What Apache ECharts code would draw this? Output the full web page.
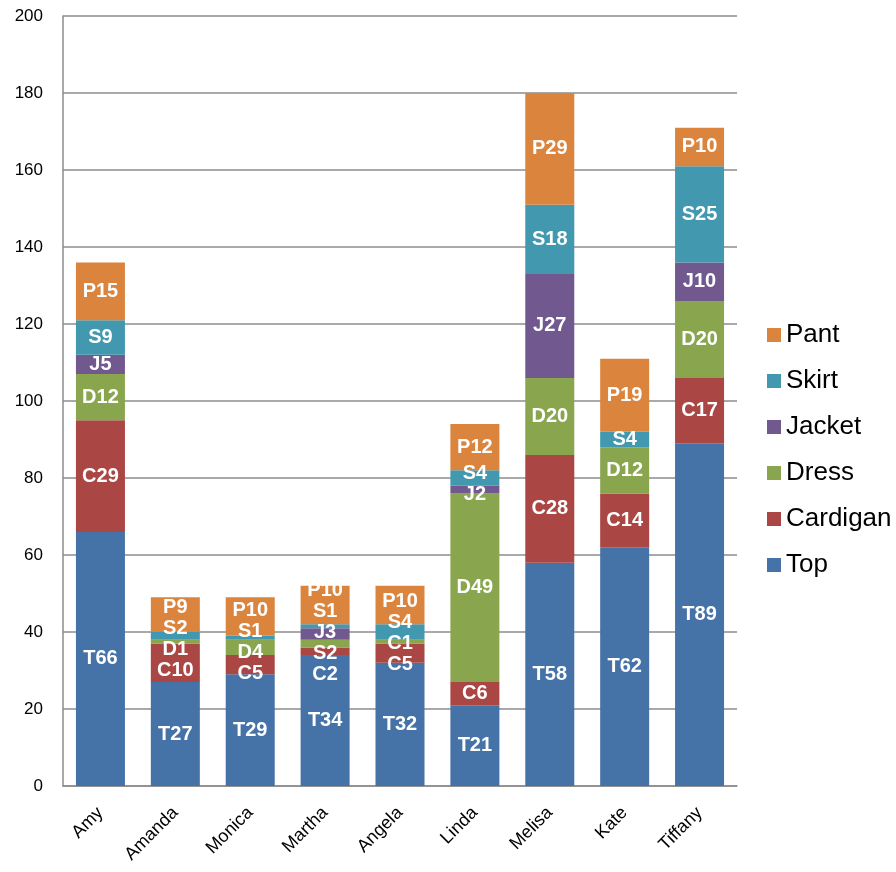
<!DOCTYPE html>
<html>
<head>
<meta charset="utf-8">
<style>
  html, body { margin: 0; padding: 0; background: #fff; }
  #chart { width: 896px; height: 872px; }
</style>
<script src="https://cdn.jsdelivr.net/npm/echarts@6/dist/echarts.min.js"></script>
</head>
<body>
<div id="chart"></div>
<script>
const names = ['Amy', 'Amanda', 'Monica', 'Martha', 'Angela', 'Linda', 'Melisa', 'Kate', 'Tiffany'];

const top_ = [66, 27, 29, 34, 32, 21, 58, 62, 89];
const cardigan = [29, 10, 5, 2, 5, 6, 28, 14, 17];
const dress = [12, 1, 4, 2, 1, 49, 20, 12, 20];
const jacket = [5, 0, 0, 3, 0, 2, 27, 0, 10];
const skirt = [9, 2, 1, 1, 4, 4, 18, 4, 25];
const pant = [15, 9, 10, 10, 10, 12, 29, 19, 10];

// label letters as printed on the original (two dress labels carry other letters)
const dressPrefix = ['D', 'D', 'D', 'S', 'C', 'D', 'D', 'D', 'D'];

const yTicks = [0, 20, 40, 60, 80, 100, 120, 140, 160, 180, 200];

const seriesDefs = [
    { name: 'Top', values: top_, color: '#4572A7', prefix: 'T' },
    { name: 'Cardigan', values: cardigan, color: '#AA4643', prefix: 'C' },
    { name: 'Dress', values: dress, color: '#89A54E', prefix: dressPrefix },
    { name: 'Jacket', values: jacket, color: '#71588F', prefix: 'J' },
    { name: 'Skirt', values: skirt, color: '#4198AF', prefix: 'S' },
    { name: 'Pant', values: pant, color: '#DB843D', prefix: 'P' },
];

const LABEL_GAP = 21; // px between stacked labels that would collide

const chart = echarts.init(document.getElementById('chart'));

function buildSeries(offsets) {
    return seriesDefs.map((def, s) => ({
        name: def.name,
        type: 'bar',
        stack: 'total',
        barWidth: 49,
        itemStyle: { color: def.color },
        data: def.values.map((v, i) => ({
            value: v,
            label: {
                show: v > 0,
                formatter: (Array.isArray(def.prefix) ? def.prefix[i] : def.prefix) + v,
                offset: [0, offsets ? offsets[s][i] : 0],
            },
        })),
        label: {
            position: 'inside',
            color: '#fff',
            fontFamily: 'Liberation Sans',
            fontWeight: 'bold',
            fontSize: 20,
        },
    }));
}

chart.setOption({
    animation: false,
    textStyle: { fontFamily: 'Liberation Sans' },
    grid: { left: 63, right: 159, top: 16, bottom: 86 },
    legend: {
        data: ['Pant', 'Skirt', 'Jacket', 'Dress', 'Cardigan', 'Top'],
        orient: 'vertical',
        left: 762,
        top: 317,
        itemWidth: 14,
        itemHeight: 14,
        itemGap: 20,
        icon: 'rect',
        textStyle: { fontSize: 26, color: '#000', fontFamily: 'Liberation Sans' },
    },
    xAxis: {
        type: 'category',
        data: names,
        axisLine: { lineStyle: { color: '#8c8c8c', width: 1.5 } },
        axisTick: { show: false },
        axisLabel: {
            rotate: 45,
            interval: 0,
            color: '#000',
            fontSize: 18,
            margin: 24,
        },
    },
    yAxis: {
        type: 'value',
        min: yTicks[0],
        max: yTicks[yTicks.length - 1],
        interval: 20,
        axisLine: { show: true, lineStyle: { color: '#8c8c8c', width: 1.5 } },
        axisTick: { show: false },
        splitLine: { lineStyle: { color: '#8c8c8c', width: 1.5 } },
        axisLabel: { color: '#000', fontSize: 17, margin: 20 },
    },
    series: buildSeries(null),
});

// spread labels of small segments apart, keeping each crowded group centred
const offsets = seriesDefs.map(() => names.map(() => 0));
names.forEach((_, i) => {
    let base = 0;
    const items = [];
    seriesDefs.forEach((def, s) => {
        const v = def.values[i];
        if (v > 0) {
            const y = chart.convertToPixel({ yAxisIndex: 0 }, base + v / 2);
            items.push({ s, y });
        }
        base += v;
    });
    items.sort((a, b) => a.y - b.y);
    const clusters = items.map(it => ({ members: [it] }));
    const place = c => {
        const mean = c.members.reduce((t, m) => t + m.y, 0) / c.members.length;
        c.first = mean - (c.members.length - 1) * LABEL_GAP / 2;
        c.last = c.first + (c.members.length - 1) * LABEL_GAP;
    };
    clusters.forEach(place);
    let merged = true;
    while (merged) {
        merged = false;
        for (let k = 0; k < clusters.length - 1; k++) {
            if (clusters[k + 1].first - clusters[k].last < LABEL_GAP) {
                clusters[k].members = clusters[k].members.concat(clusters[k + 1].members);
                clusters.splice(k + 1, 1);
                place(clusters[k]);
                merged = true;
                break;
            }
        }
    }
    clusters.forEach(c => {
        c.members.forEach((m, j) => {
            offsets[m.s][i] = c.first + j * LABEL_GAP - m.y;
        });
    });
});

chart.setOption({ series: buildSeries(offsets) });
</script>
</body>
</html>
